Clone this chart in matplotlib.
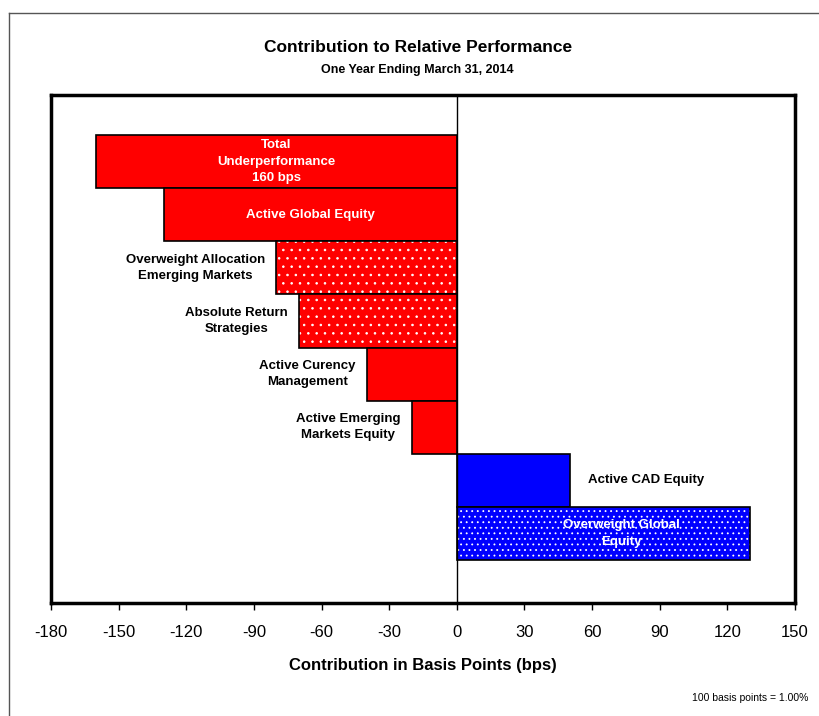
import numpy as np
from matplotlib import pyplot as plt
import matplotlib
matplotlib.rcParams.update({'font.family': ['Liberation Sans', 'DejaVu Sans'], 'hatch.linewidth': 0.6})

categories = ['Total\nUnderperformance\n160 bps', 'Active Global Equity',
              'Overweight Allocation\nEmerging Markets', 'Absolute Return\nStrategies',
              'Active Curency\nManagement', 'Active Emerging\nMarkets Equity',
              'Active CAD Equity', 'Overweight Global\nEquity']
values = [-160, -130, -80, -70, -40, -20, 50, 130]
dotted = [False, False, True, True, False, False, False, True]
xticks = [-180, -150, -120, -90, -60, -30, 0, 30, 60, 90, 120, 150]

fig = plt.figure(figsize=(8.19, 7.16), dpi=100)
ax = fig.add_axes([51/819, 1 - 603/716, 744/819, 508/716])

y = np.arange(len(values))
for i, v in enumerate(values):
    col = '#ff0000' if v < 0 else '#0000ff'
    if dotted[i]:
        h = '..' if v < 0 else '...'
        ax.barh(i, v, height=1.0, color=col, edgecolor='white', hatch=h, linewidth=0)
        ax.barh(i, v, height=1.0, fill=False, edgecolor='black', linewidth=1.2)
    else:
        ax.barh(i, v, height=1.0, color=col, edgecolor='black', linewidth=1.2)

ax.axvline(0, color='black', lw=1)

# labels
fs = 9.5
ls = 1.5
ax.text(values[0] / 2, 0, categories[0], ha='center', va='center', color='white',
        fontsize=fs, fontweight='bold', linespacing=ls)
ax.text(values[1] / 2, 1, categories[1], ha='center', va='center', color='white',
        fontsize=fs, fontweight='bold')
for i in range(2, 6):
    ax.text(values[i] - 5, i, categories[i], ha='right', va='center', multialignment='center',
            color='black', fontsize=fs, fontweight='bold', linespacing=ls)
ax.text(values[6] + 8, 6, categories[6], ha='left', va='center', color='black',
        fontsize=fs, fontweight='bold')
ax.text(73, 7, categories[7], ha='center', va='center', color='white',
        fontsize=fs, fontweight='bold', linespacing=ls)

ax.set_xlim(-180, 150)
ax.set_ylim(8.31, -1.255)
ax.set_yticks([])
ax.set_xticks(xticks, [str(t) for t in xticks])
ax.tick_params(axis='x', labelsize=12, length=5, width=1, pad=11)
for s in ax.spines.values():
    s.set_linewidth(2.5)

ax.set_xlabel('Contribution in Basis Points (bps)', fontsize=12, fontweight='bold', labelpad=13)
fig.text(0.51, 1 - 47/716, 'Contribution to Relative Performance', ha='center', va='center',
         fontsize=12.5, fontweight='bold')
fig.text(0.51, 1 - 70/716, 'One Year Ending March 31, 2014', ha='center', va='center',
         fontsize=9, fontweight='bold')
fig.text(808/819, 1 - 698/716, '100 basis points = 1.00%', ha='right', va='center', fontsize=7.5)

# outer frame (top and left edges visible)
fig.add_artist(plt.Line2D([9/819, 9/819], [0, 1 - 13/716], color='#555555', lw=1, transform=fig.transFigure))
fig.add_artist(plt.Line2D([9/819, 1], [1 - 13/716, 1 - 13/716], color='#555555', lw=1, transform=fig.transFigure))

fig.savefig('out.png', dpi=100)
